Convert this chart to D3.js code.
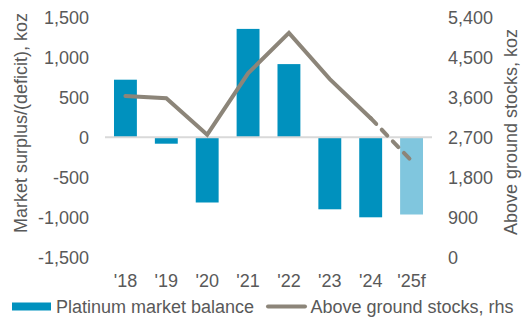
<!DOCTYPE html>
<html>
<head>
<meta charset="utf-8">
<script src="https://cdn.jsdelivr.net/npm/d3@7"></script>
<style>
html,body{margin:0;padding:0;background:#fff;}
svg{display:block;}
text{font-family:"Liberation Sans",Arial,sans-serif;fill:#595959;}
</style>
</head>
<body>
<svg id="chart" width="532" height="323"></svg>
<script>
const categories = ["'18","'19","'20","'21","'22","'23","'24","'25f"];
const marketBalance = [720, -80, -815, 1355, 915, -900, -1000, -965];
const aboveGroundStocks = [3630, 3580, 2760, 4140, 5050, 4010, 3130, 2170];
const leftTicks = [-1500, -1000, -500, 0, 500, 1000, 1500];
const rightTicks = [0, 900, 1800, 2700, 3600, 4500, 5400];
const forecastCategory = "'25f";

const svg = d3.select("#chart");
const fs = 18;
const barColor = "#0091BE", fcColor = "#80C6DE", lineColor = "#8C8579";

const x = d3.scaleBand().domain(categories).range([105, 432]).paddingInner(0.44).paddingOuter(0.22);
const yL = d3.scaleLinear().domain([-1500, 1500]).range([257.3, 17.3]);
const yR = d3.scaleLinear().domain([0, 5400]).range([257.3, 17.3]);
const fmt = d3.formatLocale({decimal: ".", thousands: ",", grouping: [3], currency: ["", ""], minus: "-"}).format(",");

// left axis
const axL = svg.append("g").attr("transform", "translate(89,0)")
  .call(d3.axisLeft(yL).tickValues(leftTicks).tickFormat(fmt).tickSize(0).tickPadding(0));
axL.select(".domain").remove();
axL.selectAll("text").attr("font-size", fs).attr("font-family", null).attr("fill", "#595959").attr("dy", "0.35em");

// right axis
const axR = svg.append("g").attr("transform", "translate(448,0)")
  .call(d3.axisRight(yR).tickValues(rightTicks).tickFormat(fmt).tickSize(0).tickPadding(0));
axR.select(".domain").remove();
axR.selectAll("text").attr("font-size", fs).attr("font-family", null).attr("fill", "#595959").attr("dy", "0.35em");

// bars
svg.append("g").selectAll("rect").data(categories).join("rect")
  .attr("x", d => x(d))
  .attr("width", x.bandwidth())
  .attr("y", (d, i) => yL(Math.max(0, marketBalance[i])))
  .attr("height", (d, i) => Math.abs(yL(marketBalance[i]) - yL(0)))
  .attr("fill", d => d === forecastCategory ? fcColor : barColor);

// zero line
svg.append("line").attr("x1", 105).attr("x2", 432).attr("y1", yL(0)).attr("y2", yL(0))
  .attr("stroke", "#D9D9D9").attr("stroke-width", 2);

// line
const pts = categories.map((c, i) => [x(c) + x.bandwidth() / 2, yR(aboveGroundStocks[i])]);
const lineGen = d3.line();
const fi = categories.indexOf(forecastCategory);
svg.append("path").attr("d", lineGen(pts.slice(0, fi)))
  .attr("fill", "none").attr("stroke", lineColor).attr("stroke-width", 4)
  .attr("stroke-linejoin", "miter").attr("stroke-linecap", "round");
svg.append("path").attr("d", lineGen(pts.slice(fi - 1, fi + 1)))
  .attr("fill", "none").attr("stroke", lineColor).attr("stroke-width", 4)
  .attr("stroke-linecap", "round").attr("stroke-dasharray", "8,8");

// x labels
svg.append("g").selectAll("text").data(categories).join("text")
  .attr("x", d => x(d) + x.bandwidth() / 2).attr("y", 287)
  .attr("text-anchor", "middle").attr("font-size", fs).text(d => d);

// axis titles
svg.append("text").attr("transform", "translate(27,123) rotate(-90)")
  .attr("text-anchor", "middle").attr("font-size", fs).text("Market surplus/(deficit), koz");
svg.append("text").attr("transform", "translate(517,132) rotate(-90)")
  .attr("text-anchor", "middle").attr("font-size", fs).text("Above ground stocks, koz");

// legend
svg.append("rect").attr("x", 12).attr("y", 302.5).attr("width", 39).attr("height", 8).attr("fill", barColor);
svg.append("text").attr("x", 56).attr("y", 312.5).attr("font-size", fs).text("Platinum market balance");
svg.append("line").attr("x1", 268).attr("x2", 305).attr("y1", 306.5).attr("y2", 306.5)
  .attr("stroke", lineColor).attr("stroke-width", 4).attr("stroke-linecap", "round");
svg.append("text").attr("x", 310.5).attr("y", 312.5).attr("font-size", fs).text("Above ground stocks, rhs");
</script>
</body>
</html>
